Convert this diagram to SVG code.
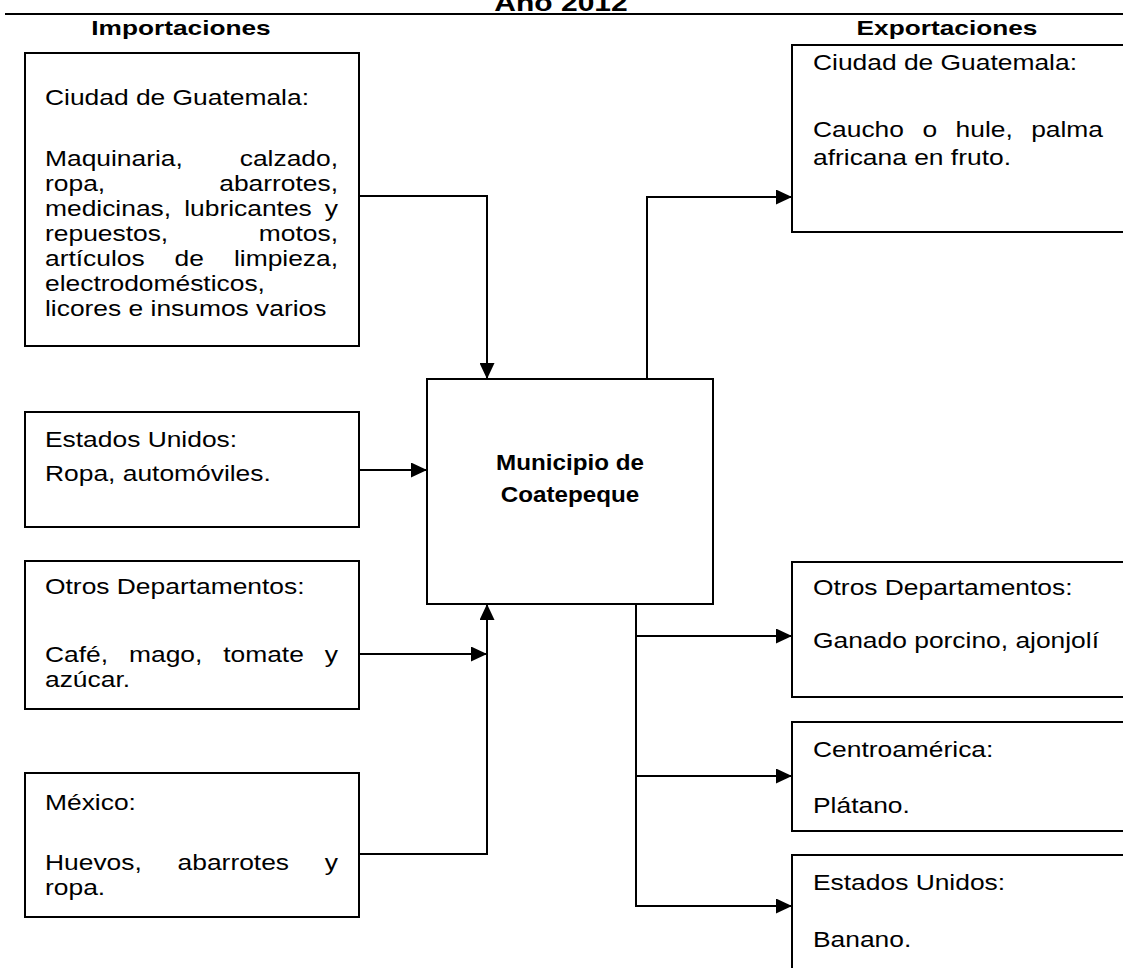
<svg xmlns="http://www.w3.org/2000/svg" width="1123" height="968" viewBox="0 0 1123 968">
  <style>
    .box { fill: #fff; stroke: #000; stroke-width: 2; }
    .t { font-family: "Liberation Sans", Arial, sans-serif; font-size: 22px; fill: #000; }
    .b { font-family: "Liberation Sans", Arial, sans-serif; font-weight: bold; fill: #000; }
    .e { text-anchor: end; }
    .m { text-anchor: middle; }
    .wire { fill: none; stroke: #000; stroke-width: 2; }
  </style>
  <defs>
    <marker id="arrow" markerUnits="userSpaceOnUse" markerWidth="16" markerHeight="15" refX="16" refY="7.5" orient="auto">
      <path d="M0,0 L16,7.5 L0,15 Z" fill="#000"/>
    </marker>
  </defs>
  <rect width="1123" height="968" fill="#fff"/>

  <!-- title and column headings -->
  <g id="titles">
    <text class="b m" font-size="24" transform="translate(561 11) scale(1.25 1)" x="0" y="0">Año 2012</text>
    <line x1="5" y1="14" x2="1123" y2="14" stroke="#000" stroke-width="2"/>
    <text class="b m" font-size="21" transform="translate(181 35) scale(1.25 1)" x="0" y="0">Importaciones</text>
    <text class="b m" font-size="21" transform="translate(947 35) scale(1.25 1)" x="0" y="0">Exportaciones</text>
  </g>

  <!-- connectors -->
  <g id="connectors">
    <polyline class="wire" points="359,196 487,196 487,379" marker-end="url(#arrow)"/>
    <line class="wire" x1="359" y1="470" x2="427" y2="470" marker-end="url(#arrow)"/>
    <line class="wire" x1="359" y1="654" x2="487" y2="654" marker-end="url(#arrow)"/>
    <polyline class="wire" points="359,854 487,854 487,604" marker-end="url(#arrow)"/>
    <polyline class="wire" points="647,379 647,197 792,197" marker-end="url(#arrow)"/>
    <polyline class="wire" points="636,604 636,906 792,906" marker-end="url(#arrow)"/>
    <line class="wire" x1="636" y1="636" x2="792" y2="636" marker-end="url(#arrow)"/>
    <line class="wire" x1="636" y1="776" x2="792" y2="776" marker-end="url(#arrow)"/>
  </g>

  <!-- imports: text blocks are widened 1.2x horizontally, justified lines end at x=338 -->
  <g id="imp-guatemala">
    <rect class="box" x="25" y="53" width="334" height="293"/>
    <g transform="translate(45 0) scale(1.2 1)">
      <text class="t" x="0" y="105">Ciudad de Guatemala:</text>
      <text class="t" x="0" y="166">Maquinaria,</text>
      <text class="t e" x="244.2" y="166">calzado,</text>
      <text class="t" x="0" y="191">ropa,</text>
      <text class="t e" x="244.2" y="191">abarrotes,</text>
      <text class="t" x="0" y="216">medicinas,</text>
      <text class="t" x="116" y="216">lubricantes</text>
      <text class="t e" x="244.2" y="216">y</text>
      <text class="t" x="0" y="241">repuestos,</text>
      <text class="t e" x="244.2" y="241">motos,</text>
      <text class="t" x="0" y="266">artículos</text>
      <text class="t" x="108" y="266">de</text>
      <text class="t e" x="244.2" y="266">limpieza,</text>
      <text class="t" x="0" y="291">electrodomésticos,</text>
      <text class="t" x="0" y="316">licores e insumos varios</text>
    </g>
  </g>

  <g id="imp-eeuu">
    <rect class="box" x="25" y="412" width="334" height="115"/>
    <g transform="translate(45 0) scale(1.2 1)">
      <text class="t" x="0" y="447">Estados Unidos:</text>
      <text class="t" x="0" y="481">Ropa, automóviles.</text>
    </g>
  </g>

  <g id="imp-departamentos">
    <rect class="box" x="25" y="561" width="334" height="148"/>
    <g transform="translate(45 0) scale(1.2 1)">
      <text class="t" x="0" y="594">Otros Departamentos:</text>
      <text class="t" x="0" y="662">Café,</text>
      <text class="t" x="70" y="662">mago,</text>
      <text class="t" x="148.5" y="662">tomate</text>
      <text class="t e" x="244.2" y="662">y</text>
      <text class="t" x="0" y="687">azúcar.</text>
    </g>
  </g>

  <g id="imp-mexico">
    <rect class="box" x="25" y="773" width="334" height="144"/>
    <g transform="translate(45 0) scale(1.2 1)">
      <text class="t" x="0" y="810">México:</text>
      <text class="t" x="0" y="870">Huevos,</text>
      <text class="t" x="110.5" y="870">abarrotes</text>
      <text class="t e" x="244.2" y="870">y</text>
      <text class="t" x="0" y="895">ropa.</text>
    </g>
  </g>

  <!-- municipality -->
  <g id="municipio">
    <rect class="box" x="427" y="379" width="286" height="225"/>
    <g transform="translate(570 0) scale(1.1 1)">
      <text class="b m" font-size="22" x="0" y="470">Municipio de</text>
      <text class="b m" font-size="22" x="0" y="502">Coatepeque</text>
    </g>
  </g>

  <!-- exports: right edges run past the page -->
  <g id="exp-guatemala">
    <rect class="box" x="792" y="45" width="340" height="187"/>
    <g transform="translate(813 0) scale(1.2 1)">
      <text class="t" x="0" y="70">Ciudad de Guatemala:</text>
      <text class="t" x="0" y="137">Caucho</text>
      <text class="t" x="91.2" y="137">o</text>
      <text class="t" x="118.8" y="137">hule,</text>
      <text class="t e" x="241.7" y="137">palma</text>
      <text class="t" x="0" y="165">africana en fruto.</text>
    </g>
  </g>

  <g id="exp-departamentos">
    <rect class="box" x="792" y="562" width="340" height="135"/>
    <g transform="translate(813 0) scale(1.2 1)">
      <text class="t" x="0" y="595">Otros Departamentos:</text>
      <text class="t" x="0" y="648">Ganado porcino, ajonjolí</text>
    </g>
  </g>

  <g id="exp-centroamerica">
    <rect class="box" x="792" y="722" width="340" height="109"/>
    <g transform="translate(813 0) scale(1.2 1)">
      <text class="t" x="0" y="757">Centroamérica:</text>
      <text class="t" x="0" y="813">Plátano.</text>
    </g>
  </g>

  <g id="exp-eeuu">
    <rect class="box" x="792" y="855" width="340" height="130"/>
    <g transform="translate(813 0) scale(1.2 1)">
      <text class="t" x="0" y="890">Estados Unidos:</text>
      <text class="t" x="0" y="947">Banano.</text>
    </g>
  </g>
</svg>
